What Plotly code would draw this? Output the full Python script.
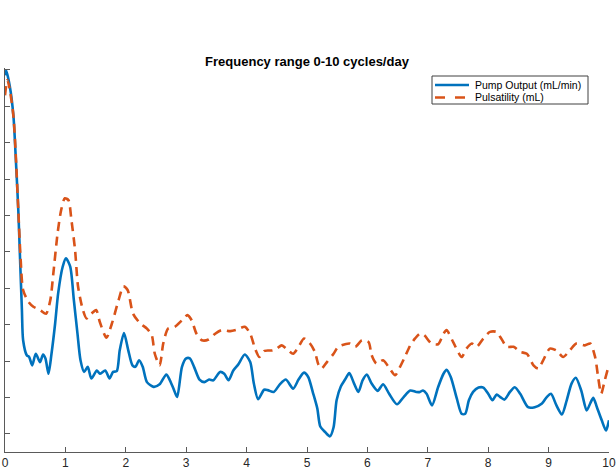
import plotly.graph_objects as go

# Pump Output (mL/min) - normalized spectrum
freq_pump = [0.0, 0.02, 0.08, 0.14, 0.18, 0.22, 0.25, 0.28, 0.30, 0.36, 0.40, 0.45, 0.51, 0.58, 0.63, 0.67,
             0.72, 0.77, 0.83, 0.88, 0.955, 1.01, 1.08, 1.14, 1.20, 1.25, 1.31, 1.37, 1.43, 1.52, 1.57, 1.66,
             1.73, 1.79, 1.85, 1.90, 1.97, 2.04, 2.11, 2.16, 2.22, 2.28, 2.35, 2.46, 2.56, 2.67, 2.73, 2.79,
             2.85, 2.93, 3.00, 3.06, 3.13, 3.22, 3.30, 3.38, 3.45, 3.56, 3.63, 3.70, 3.78, 3.86, 3.97, 4.06,
             4.12, 4.19, 4.29, 4.35, 4.45, 4.55, 4.65, 4.77, 4.86, 4.95, 5.02, 5.10, 5.17, 5.22, 5.30, 5.38,
             5.44, 5.49, 5.56, 5.63, 5.70, 5.78, 5.85, 5.92, 5.99, 6.07, 6.17, 6.26, 6.36, 6.49, 6.60, 6.71,
             6.81, 6.87, 6.92, 6.98, 7.07, 7.17, 7.26, 7.31, 7.38, 7.48, 7.56, 7.62, 7.68, 7.75, 7.84, 7.92,
             8.00, 8.07, 8.14, 8.20, 8.27, 8.36, 8.44, 8.53, 8.66, 8.77, 8.89, 8.97, 9.04, 9.13, 9.22, 9.30,
             9.38, 9.45, 9.54, 9.63, 9.69, 9.74, 9.80, 9.88, 9.95, 10.0]
pump_output = [0.985, 0.998, 0.954, 0.872, 0.752, 0.615, 0.477, 0.34, 0.257, 0.216, 0.211, 0.188, 0.22, 0.197, 0.218, 0.207,
               0.165, 0.22, 0.303, 0.386, 0.459, 0.482, 0.459, 0.367, 0.275, 0.202, 0.17, 0.184, 0.152, 0.174, 0.165, 0.174,
               0.152, 0.17, 0.172, 0.23, 0.277, 0.23, 0.188, 0.184, 0.202, 0.184, 0.142, 0.129, 0.136, 0.163, 0.147, 0.124,
               0.101, 0.184, 0.207, 0.207, 0.184, 0.149, 0.142, 0.149, 0.147, 0.17, 0.165, 0.147, 0.174, 0.19, 0.218, 0.197,
               0.138, 0.095, 0.121, 0.12, 0.115, 0.136, 0.149, 0.124, 0.149, 0.168, 0.156, 0.112, 0.07, 0.02, 0.005, -0.007,
               0.018, 0.092, 0.13, 0.149, 0.167, 0.138, 0.115, 0.147, 0.163, 0.138, 0.118, 0.136, 0.11, 0.081, 0.101, 0.119,
               0.115, 0.115, 0.119, 0.11, 0.078, 0.128, 0.165, 0.176, 0.156, 0.097, 0.055, 0.055, 0.092, 0.115, 0.127, 0.127,
               0.11, 0.092, 0.108, 0.101, 0.094, 0.115, 0.128, 0.11, 0.073, 0.073, 0.083, 0.101, 0.11, 0.078, 0.053, 0.092,
               0.138, 0.154, 0.119, 0.064, 0.084, 0.099, 0.073, 0.037, 0.009, 0.037]

# Pulsatility (mL) - normalized spectrum
freq_puls = [0.0, 0.04, 0.08, 0.14, 0.18, 0.22, 0.26, 0.30, 0.39, 0.47, 0.58, 0.68, 0.75, 0.80, 0.87, 0.93,
             0.99, 1.05, 1.10, 1.16, 1.21, 1.29, 1.35, 1.43, 1.51, 1.57, 1.68, 1.77, 1.88, 1.96, 2.03, 2.12,
             2.24, 2.35, 2.43, 2.48, 2.56, 2.62, 2.70, 2.81, 2.93, 3.02, 3.09, 3.17, 3.26, 3.37, 3.48, 3.59,
             3.73, 3.84, 3.97, 4.06, 4.14, 4.21, 4.30, 4.42, 4.50, 4.58, 4.69, 4.77, 4.86, 4.95, 5.05, 5.13,
             5.19, 5.24, 5.33, 5.44, 5.52, 5.71, 5.80, 5.91, 6.02, 6.07, 6.15, 6.26, 6.35, 6.46, 6.54, 6.62,
             6.71, 6.79, 6.87, 6.94, 7.06, 7.17, 7.26, 7.31, 7.42, 7.56, 7.64, 7.73, 7.81, 7.92, 8.03, 8.14,
             8.20, 8.31, 8.42, 8.53, 8.64, 8.75, 8.83, 8.91, 9.02, 9.13, 9.24, 9.35, 9.46, 9.60, 9.69, 9.77,
             9.82, 9.87, 9.93, 10.0]
pulsatility = [0.93, 0.972, 0.945, 0.872, 0.761, 0.615, 0.477, 0.395, 0.362, 0.349, 0.34, 0.33, 0.367, 0.44, 0.55, 0.615,
               0.647, 0.642, 0.587, 0.505, 0.404, 0.34, 0.317, 0.33, 0.34, 0.307, 0.264, 0.303, 0.367, 0.405, 0.395, 0.33,
               0.303, 0.289, 0.271, 0.22, 0.188, 0.248, 0.289, 0.294, 0.312, 0.326, 0.312, 0.275, 0.257, 0.259, 0.275, 0.285,
               0.282, 0.286, 0.294, 0.275, 0.234, 0.211, 0.228, 0.229, 0.234, 0.243, 0.229, 0.22, 0.239, 0.262, 0.248, 0.225,
               0.19, 0.179, 0.197, 0.22, 0.239, 0.248, 0.239, 0.257, 0.252, 0.216, 0.193, 0.202, 0.184, 0.161, 0.184, 0.211,
               0.243, 0.262, 0.275, 0.271, 0.248, 0.246, 0.275, 0.285, 0.252, 0.211, 0.234, 0.248, 0.239, 0.262, 0.28, 0.28,
               0.266, 0.239, 0.239, 0.225, 0.22, 0.188, 0.179, 0.202, 0.234, 0.229, 0.211, 0.229, 0.248, 0.243, 0.248, 0.211,
               0.156, 0.11, 0.147, 0.19]

series_names = ["Pump Output (mL/min)", "Pulsatility (mL)"]
series_colors = ["#0072BD", "#D95319"]
series_dash = ["solid", "9px,6px"]
x_ticks = [0, 1, 2, 3, 4, 5, 6, 7, 8, 9, 10]
y_ticks = [0, 0.1, 0.2, 0.3, 0.4, 0.5, 0.6, 0.7, 0.8, 0.9, 1.0]

FONT = "Liberation Sans, Arial, Helvetica, sans-serif"
AXC = "#5a5a5a"
W, H = 616, 472
ML, MR, MT, MB = 5, 7, 68, 20
PW, PH = W - ML - MR, H - MT - MB


def px2paper(px, py):
    return (px - ML) / PW, (H - MB - py) / PH


fig = go.Figure()
for xs, ys, nm, col, dsh in [(freq_pump, pump_output, series_names[0], series_colors[0], series_dash[0]),
                             (freq_puls, pulsatility, series_names[1], series_colors[1], series_dash[1])]:
    fig.add_trace(go.Scatter(x=xs, y=ys, mode="lines", name=nm, showlegend=False,
                             line=dict(color=col, width=2.6, dash=dsh, shape="spline", smoothing=0.7)))

# Compact MATLAB-style legend box
shapes = []
annots = []
bx0, by0 = px2paper(432, 104)
bx1, by1 = px2paper(588, 76)
shapes.append(dict(type="rect", xref="paper", yref="paper", x0=bx0, y0=by0, x1=bx1, y1=by1,
                   line=dict(color="#404040", width=1), fillcolor="white", layer="above"))
for i, (nm, col, dsh) in enumerate(zip(series_names, series_colors, series_dash)):
    py = 85 + i * 12.5
    lx0, ly = px2paper(435, py)
    lx1, _ = px2paper(469, py)
    shapes.append(dict(type="line", xref="paper", yref="paper", x0=lx0, y0=ly, x1=lx1, y1=ly,
                       line=dict(color=col, width=2.4, dash=("solid" if dsh == "solid" else "10px,10px")),
                       layer="above"))
    tx, ty = px2paper(473, py)
    annots.append(dict(xref="paper", yref="paper", x=tx, y=ty, text=nm, showarrow=False,
                       xanchor="left", yanchor="middle", font=dict(family=FONT, size=10.5, color="#000000")))

fig.update_layout(
    width=W, height=H,
    margin=dict(l=ML, r=MR, t=MT, b=MB, pad=0),
    paper_bgcolor="white", plot_bgcolor="white",
    font=dict(family=FONT, size=11, color="#262626"),
    title=dict(text="<b>Frequency range 0-10 cycles/day</b>", x=0.5, xref="paper", xanchor="center",
               y=1 - 61 / H, yref="container", yanchor="middle",
               font=dict(family=FONT, size=13, color="#000000")),
    shapes=shapes,
    annotations=annots,
    xaxis=dict(range=[0, 10], tickvals=x_ticks, ticktext=[str(t) for t in x_ticks], showgrid=False, zeroline=False,
               showline=True, linecolor=AXC, linewidth=1, ticks="inside", ticklen=5, tickcolor=AXC,
               tickfont=dict(family=FONT, size=12, color="#262626"), automargin=False),
    yaxis=dict(range=[-0.05, 1.005], tickvals=y_ticks, showticklabels=False, showgrid=False, zeroline=False,
               showline=True, linecolor=AXC, linewidth=1, ticks="inside", ticklen=5, tickcolor=AXC,
               automargin=False),
)

fig.write_html("out.html")
